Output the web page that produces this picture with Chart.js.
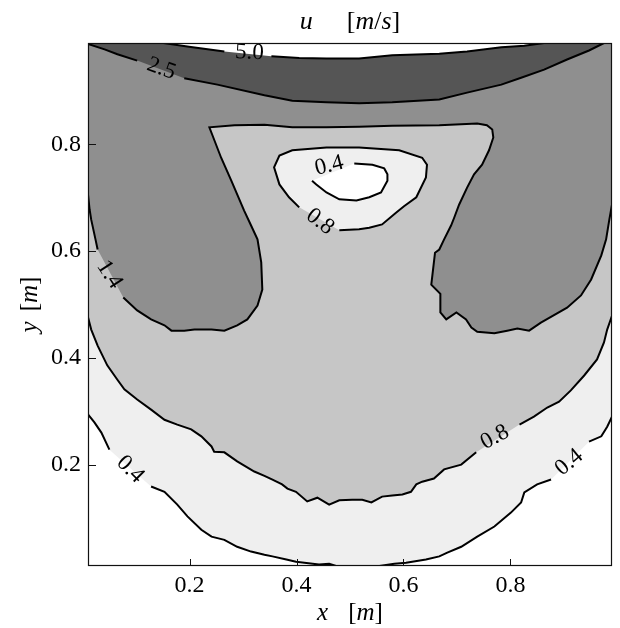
<!DOCTYPE html>
<html>
<head>
<meta charset="utf-8">
<script src="https://cdn.jsdelivr.net/npm/chart.js@4.4.1/dist/chart.umd.min.js"></script>
<style>
  html, body { margin: 0; padding: 0; background: #fff; }
</style>
</head>
<body>
<canvas id="uChart" width="620" height="628"></canvas>
<script>
const xTicks = [0.2, 0.4, 0.6, 0.8];
const yTicks = [0.2, 0.4, 0.6, 0.8];

// contour lines (x, y in m), split where the inline labels sit
const c50a = [[0.151, 0.99], [0.199, 0.983], [0.265, 0.974]];
const c50b = [[0.353, 0.965], [0.405, 0.962], [0.456, 0.961], [0.517, 0.961], [0.579, 0.967], [0.667, 0.970],
              [0.719, 0.974], [0.783, 0.982], [0.826, 0.985], [0.863, 0.99]];

const c25a = [[0.01, 0.988], [0.041, 0.978], [0.065, 0.969], [0.102, 0.957]];
const c25b = [[0.190, 0.924], [0.252, 0.912], [0.340, 0.892], [0.392, 0.882], [0.456, 0.879], [0.517, 0.877],
              [0.579, 0.879], [0.667, 0.884], [0.719, 0.897], [0.783, 0.912], [0.820, 0.925], [0.863, 0.940],
              [0.906, 0.959], [0.947, 0.976], [0.975, 0.99]];

const c14a = [[0.01, 0.706], [0.013, 0.678], [0.016, 0.659], [0.024, 0.622], [0.028, 0.603]];
const c14b = [[0.076, 0.513], [0.102, 0.489], [0.128, 0.472], [0.153, 0.461], [0.166, 0.451], [0.190, 0.451],
              [0.209, 0.453], [0.241, 0.453], [0.265, 0.451], [0.289, 0.461], [0.308, 0.472], [0.327, 0.498],
              [0.336, 0.528], [0.334, 0.579], [0.327, 0.622], [0.315, 0.648], [0.302, 0.676], [0.278, 0.732],
              [0.259, 0.775], [0.242, 0.819], [0.237, 0.832], [0.284, 0.836], [0.340, 0.837], [0.392, 0.832],
              [0.456, 0.832], [0.517, 0.833], [0.579, 0.835], [0.667, 0.836], [0.738, 0.839], [0.756, 0.836],
              [0.766, 0.828], [0.768, 0.813], [0.760, 0.789], [0.747, 0.762], [0.732, 0.744], [0.719, 0.719],
              [0.704, 0.687], [0.695, 0.663], [0.689, 0.648], [0.676, 0.622], [0.667, 0.603], [0.659, 0.597],
              [0.654, 0.554], [0.652, 0.537], [0.669, 0.520], [0.669, 0.485], [0.680, 0.472], [0.699, 0.485],
              [0.717, 0.472], [0.727, 0.457], [0.738, 0.449], [0.770, 0.446], [0.794, 0.451], [0.813, 0.455],
              [0.835, 0.451], [0.857, 0.466], [0.906, 0.494], [0.932, 0.517], [0.951, 0.547], [0.970, 0.592],
              [0.979, 0.622], [0.985, 0.659], [0.99, 0.687]];

const c08inner = [[0.405, 0.682], [0.386, 0.701], [0.368, 0.725], [0.358, 0.757], [0.368, 0.779], [0.392, 0.789],
                  [0.456, 0.794], [0.517, 0.794], [0.592, 0.789], [0.635, 0.775], [0.644, 0.762], [0.642, 0.738],
                  [0.624, 0.701], [0.601, 0.684], [0.586, 0.672], [0.560, 0.650], [0.536, 0.644], [0.517, 0.641],
                  [0.480, 0.639]];

const c04inner = [[0.508, 0.764], [0.542, 0.762], [0.564, 0.755], [0.570, 0.744], [0.570, 0.732], [0.558, 0.710],
                  [0.536, 0.701], [0.512, 0.695], [0.480, 0.697], [0.456, 0.710], [0.437, 0.725], [0.429, 0.732]];

const c08a = [[0.01, 0.476], [0.016, 0.453], [0.028, 0.423], [0.046, 0.386], [0.065, 0.359], [0.078, 0.341],
              [0.102, 0.322], [0.128, 0.303], [0.153, 0.284], [0.177, 0.275], [0.203, 0.266], [0.222, 0.253],
              [0.241, 0.234], [0.246, 0.224], [0.265, 0.223], [0.289, 0.206], [0.321, 0.187], [0.340, 0.179],
              [0.355, 0.172], [0.373, 0.163], [0.383, 0.155], [0.399, 0.149], [0.420, 0.131], [0.439, 0.138],
              [0.461, 0.125], [0.480, 0.133], [0.504, 0.134], [0.523, 0.134], [0.540, 0.129], [0.560, 0.140],
              [0.579, 0.142], [0.598, 0.144], [0.614, 0.149], [0.624, 0.163], [0.635, 0.168], [0.657, 0.174],
              [0.676, 0.191], [0.708, 0.200], [0.736, 0.223]];
const c08b = [[0.817, 0.275], [0.844, 0.290], [0.869, 0.307], [0.891, 0.318], [0.913, 0.339], [0.938, 0.367],
              [0.962, 0.397], [0.975, 0.429], [0.981, 0.453], [0.99, 0.479]];

const c04la = [[0.01, 0.294], [0.022, 0.279], [0.035, 0.260], [0.050, 0.228]];
const c04lb = [[0.128, 0.159], [0.153, 0.149], [0.177, 0.125], [0.196, 0.103], [0.222, 0.078], [0.241, 0.065],
               [0.265, 0.059], [0.289, 0.046], [0.315, 0.037], [0.340, 0.031], [0.355, 0.028], [0.381, 0.022],
               [0.399, 0.018], [0.442, 0.013], [0.461, 0.014], [0.474, 0.01]];
const c04ra = [[0.555, 0.01], [0.583, 0.014], [0.605, 0.016], [0.642, 0.022], [0.667, 0.028], [0.682, 0.035],
               [0.708, 0.046], [0.738, 0.065], [0.770, 0.084], [0.801, 0.110], [0.820, 0.129], [0.826, 0.148],
               [0.850, 0.163], [0.876, 0.172]];
const c04rb = [[0.947, 0.243], [0.970, 0.253], [0.981, 0.271], [0.99, 0.290]];

// inline contour labels
const labelLevel = [5.0, 2.5, 1.4, 0.8, 0.4, 0.8, 0.4, 0.4];
const labelX = [0.312, 0.147, 0.050, 0.444, 0.461, 0.771, 0.089, 0.910];
const labelY = [0.972, 0.942, 0.556, 0.655, 0.760, 0.251, 0.191, 0.204];
const labelAngle = [3, 20, 57, 38, -14, -28, 45, -40];

const X_MIN = 0.01, X_MAX = 0.99, Y_MIN = 0.01, Y_MAX = 0.99;
const FONT = "'Liberation Serif', 'DejaVu Serif', serif";

function toXY(points) {
    return points.map(function (p) { return { x: p[0], y: p[1] }; });
}

function lineSet(points) {
    return {
        data: toXY(points),
        borderColor: "#000",
        borderWidth: 2,
        pointRadius: 0,
        tension: 0,
        fill: false,
        order: 0
    };
}

function areaSet(points, color, order) {
    return {
        data: toXY(points),
        borderColor: "rgba(0,0,0,0)",
        borderWidth: 0,
        backgroundColor: color,
        pointRadius: 0,
        tension: 0,
        fill: "shape",
        order: order
    };
}

const datasets = [
    areaSet(c08a.concat(c08b, [[X_MAX, Y_MAX], [X_MIN, Y_MAX]]), "#c6c6c6", 10),
    areaSet(c04la.concat(c04lb, [[X_MIN, Y_MIN]]), "#ffffff", 10),
    areaSet(c04ra.concat(c04rb, [[X_MAX, Y_MIN]]), "#ffffff", 10),
    areaSet(c14a.concat(c14b, [[X_MAX, Y_MAX], [X_MIN, Y_MAX]]), "#8f8f8f", 9),
    areaSet(c25a.concat(c25b, [[X_MIN, Y_MAX]]), "#555555", 8),
    areaSet(c50a.concat(c50b), "#ffffff", 7),
    areaSet(c08inner, "#efefef", 6),
    areaSet(c04inner, "#ffffff", 5)
];

[c50a, c50b, c25a, c25b, c14a, c14b, c08inner, c04inner, c08a, c08b, c04la, c04lb, c04ra, c04rb].forEach(function (c) {
    datasets.push(lineSet(c));
});

// draws a label made of upright and italic pieces, centred on (cx, cy)
function drawMixed(ctx, parts, cx, cy, angle, size) {
    ctx.save();
    ctx.translate(cx, cy);
    ctx.rotate(angle);
    ctx.textBaseline = "alphabetic";
    ctx.textAlign = "left";
    let widths = parts.map(function (p) {
        if (typeof p === "number") return p;
        ctx.font = (p[1] ? "italic " : "") + size + "px " + FONT;
        return ctx.measureText(p[0]).width;
    });
    let total = widths.reduce(function (a, b) { return a + b; }, 0);
    let x = -total / 2;
    parts.forEach(function (p, i) {
        if (typeof p !== "number") {
            ctx.font = (p[1] ? "italic " : "") + size + "px " + FONT;
            ctx.fillText(p[0], x, 0);
        }
        x += widths[i];
    });
    ctx.restore();
}

const decor = {
    id: "decor",
    beforeDraw: function (chart) {
        const ctx = chart.ctx, a = chart.chartArea;
        ctx.save();
        ctx.fillStyle = "#efefef";
        ctx.fillRect(a.left, a.top, a.right - a.left, a.bottom - a.top);
        ctx.restore();
    },
    afterDatasetsDraw: function (chart) {
        const ctx = chart.ctx;
        const xs = chart.scales.x, ys = chart.scales.y;
        ctx.save();
        ctx.font = "23px " + FONT;
        ctx.fillStyle = "#000";
        ctx.textAlign = "center";
        ctx.textBaseline = "middle";
        for (let i = 0; i < labelLevel.length; i++) {
            ctx.save();
            ctx.translate(xs.getPixelForValue(labelX[i]), ys.getPixelForValue(labelY[i]));
            ctx.rotate(labelAngle[i] * Math.PI / 180);
            ctx.fillText(labelLevel[i].toFixed(1), 0, 0);
            ctx.restore();
        }
        ctx.restore();
    },
    afterDraw: function (chart) {
        const ctx = chart.ctx, a = chart.chartArea;
        const xs = chart.scales.x, ys = chart.scales.y;
        ctx.save();
        ctx.strokeStyle = "#111";
        ctx.lineWidth = 1.2;
        ctx.strokeRect(a.left + 0.5, a.top + 0.5, a.right - a.left - 1, a.bottom - a.top - 1);

        // inward ticks on the left and bottom
        ctx.lineWidth = 1;
        ctx.beginPath();
        xTicks.forEach(function (v) {
            const px = Math.round(xs.getPixelForValue(v)) + 0.5;
            ctx.moveTo(px, a.bottom);
            ctx.lineTo(px, a.bottom - 7);
        });
        yTicks.forEach(function (v) {
            const py = Math.round(ys.getPixelForValue(v)) + 0.5;
            ctx.moveTo(a.left, py);
            ctx.lineTo(a.left + 8, py);
        });
        ctx.stroke();
        ctx.restore();

        ctx.fillStyle = "#000";
        const cx = (a.left + a.right) / 2;
        drawMixed(ctx, [["u", true], 34, ["[", false], ["m", true], ["/", false], ["s", true], ["]", false]], cx, 29, 0, 26);
        drawMixed(ctx, [["x", true], 20, ["[", false], ["m", true], ["]", false]], cx, 620, 0, 25);
        drawMixed(ctx, [["y", true], 10, ["[", false], ["m", true], ["]", false]], 37, (a.top + a.bottom) / 2, -Math.PI / 2, 25);
    }
};

new Chart(document.getElementById("uChart"), {
    type: "line",
    data: { datasets: datasets },
    options: {
        responsive: false,
        animation: false,
        events: [],
        layout: { padding: { top: 43, right: 8, left: 0, bottom: 0 } },
        plugins: {
            legend: { display: false },
            title: { display: false },
            tooltip: { enabled: false }
        },
        scales: {
            x: {
                type: "linear",
                min: X_MIN,
                max: X_MAX,
                grid: { display: false, drawTicks: false },
                border: { display: false },
                afterBuildTicks: function (s) { s.ticks = xTicks.map(function (v) { return { value: v }; }); },
                afterFit: function (s) { s.height = 62; },
                ticks: {
                    font: { family: FONT, size: 24 },
                    color: "#000",
                    padding: 5,
                    maxRotation: 0,
                    callback: function (v) { return v.toFixed(1); }
                }
            },
            y: {
                type: "linear",
                min: Y_MIN,
                max: Y_MAX,
                grid: { display: false, drawTicks: false },
                border: { display: false },
                afterBuildTicks: function (s) { s.ticks = yTicks.map(function (v) { return { value: v }; }); },
                afterFit: function (s) { s.width = 88; },
                ticks: {
                    font: { family: FONT, size: 24 },
                    color: "#000",
                    padding: 7,
                    callback: function (v) { return v.toFixed(1); }
                }
            }
        }
    },
    plugins: [decor]
});
</script>
</body>
</html>
